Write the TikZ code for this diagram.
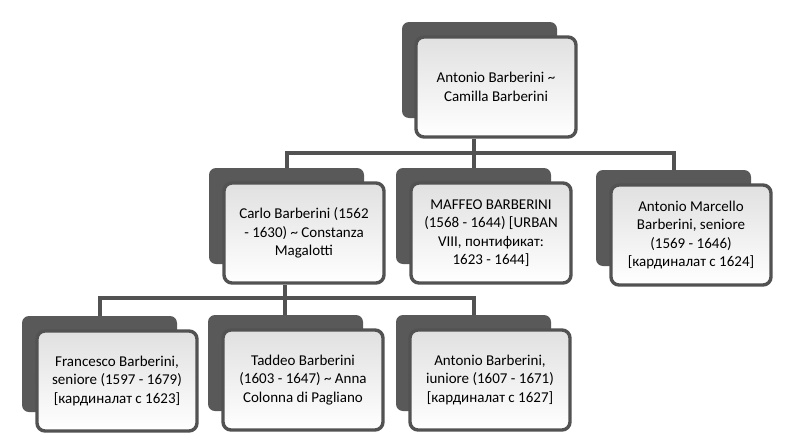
\documentclass[tikz,border=0pt]{standalone}
\usepackage{fontspec}
\setmainfont{Carlito}
\begin{document}
\begin{tikzpicture}[x=1pt,y=-1pt,
  back/.style={fill=black!65,rounded corners=7pt},
  front/.style={draw=black!68,line width=3.4pt,rounded corners=8pt,top color=black!12,bottom color=white},
  lbl/.style={align=center,font=\fontsize{15}{18.5}\selectfont,text=black,inner sep=0pt},
  ln/.style={draw=black!68,line width=3.4pt}]
\useasboundingbox (0,0) rectangle (790,442);
\newcommand\fambox[6]{%
  \fill[back] (#2,#3) rectangle ++(155,96);
  \path[front] (#4,#5) rectangle ++(160,100);
  \node[lbl] (#1) at (#4+80,#5+50) {#6};
  \coordinate (#1t) at (#2+78,#3);}
\fambox{a}{402}{22}{416}{37}{Antonio Barberini \textasciitilde\\Camilla Barberini}
\fambox{c}{209}{168}{224}{183}{Carlo Barberini (1562\\- 1630) \textasciitilde\ Constanza\\Magalotti}
\fambox{m}{396}{168}{411}{183}{MAFFEO BARBERINI\\(1568 - 1644) [URBAN\\VIII, понтификат:\\1623 - 1644]}
\fambox{am}{596}{170}{611}{185}{Antonio Marcello\\Barberini, seniore\\(1569 - 1646)\\{[кардиналат с 1624]}}
\fambox{f}{22}{316}{37}{331}{Francesco Barberini,\\seniore (1597 - 1679)\\{[кардиналат с 1623]}}
\fambox{t}{208}{315}{223}{330}{Taddeo Barberini\\(1603 - 1647) \textasciitilde\ Anna\\Colonna di Pagliano}
\fambox{ai}{396}{315}{410}{330}{Antonio Barberini,\\iuniore (1607 - 1671)\\{[кардиналат с 1627]}}
\coordinate (h1) at (474,153);
\coordinate (h2) at (285,298);
\draw[ln] (474,139) -- (mt);
\draw[ln] (ct) -- (ct |- h1) -- (amt |- h1) -- (amt);
\draw[ln] (285,285) -- (285,315);
\draw[ln] (ft) -- (ft |- h2) -- (ait |- h2) -- (ait);
\end{tikzpicture}
\end{document}
